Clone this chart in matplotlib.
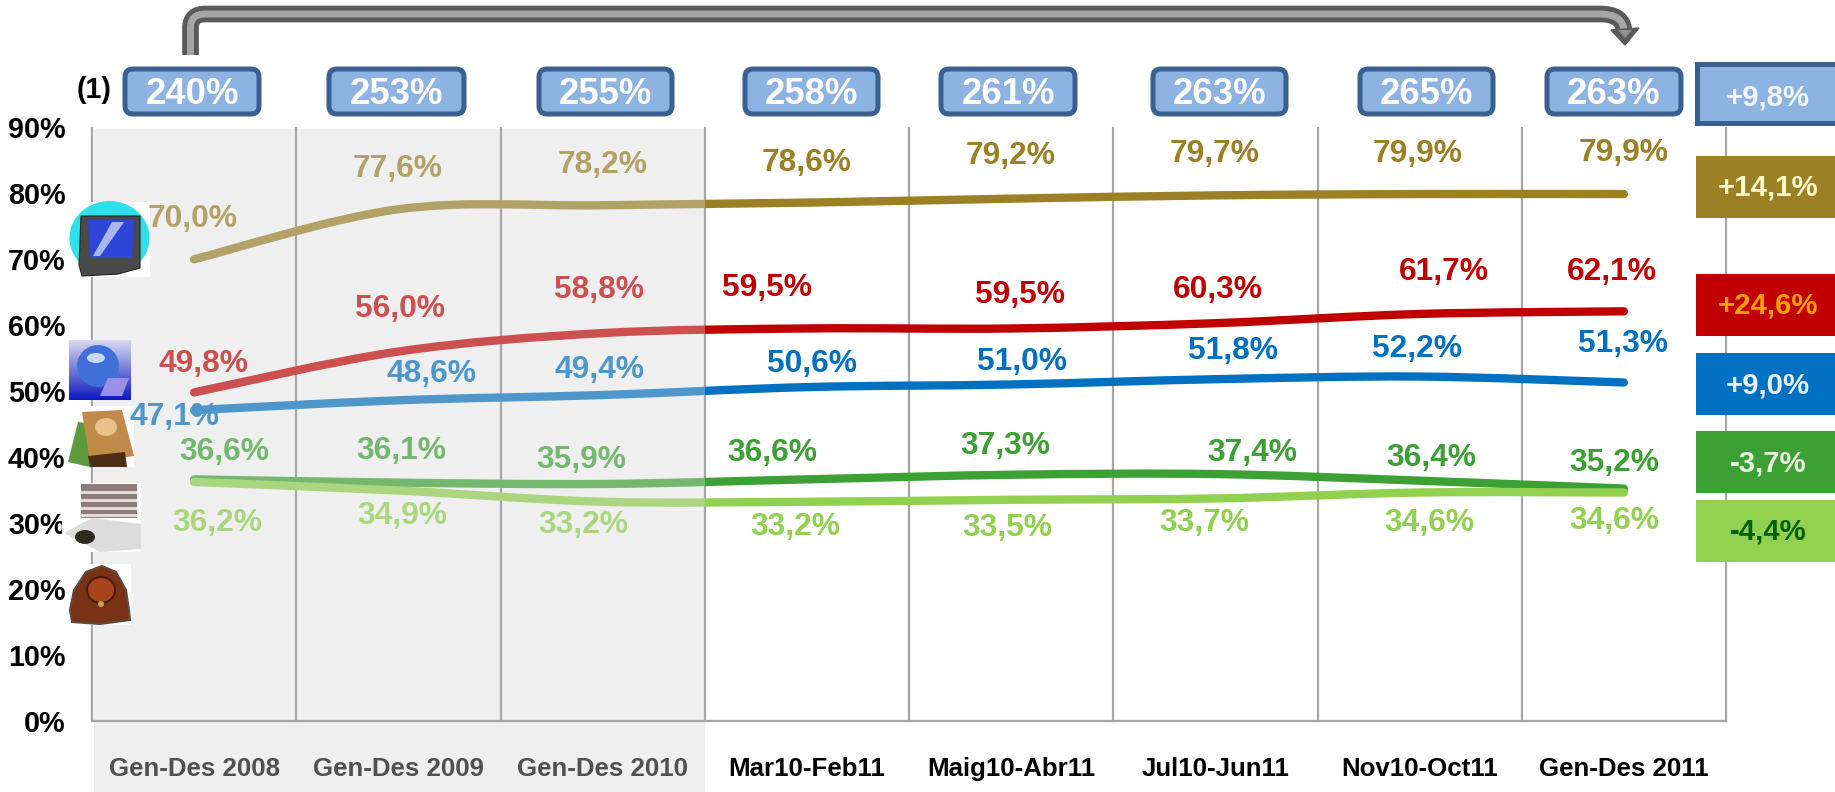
import numpy as np
import matplotlib
matplotlib.use("Agg")
import matplotlib.pyplot as plt
from matplotlib.path import Path
from matplotlib.patches import PathPatch, Rectangle, FancyBboxPatch, Circle, Polygon, Ellipse

FS = 1.06   # a little larger: the reference's text is taller and narrower than Liberation Sans
plt.rcParams['font.family'] = ['Liberation Sans', 'DejaVu Sans']
plt.rcParams['font.weight'] = 'bold'

# ---------- data ----------
periods = ['Gen-Des 2008', 'Gen-Des 2009', 'Gen-Des 2010', 'Mar10-Feb11', 'Maig10-Abr11',
           'Jul10-Jun11', 'Nov10-Oct11', 'Gen-Des 2011']
tv = [70.0, 77.6, 78.2, 78.6, 79.2, 79.7, 79.9, 79.9]
internet = [49.8, 56.0, 58.8, 59.5, 59.5, 60.3, 61.7, 62.1]
magazines = [47.1, 48.6, 49.4, 50.6, 51.0, 51.8, 52.2, 51.3]
newspapers = [36.6, 36.1, 35.9, 36.6, 37.3, 37.4, 36.4, 35.2]
radio = [36.2, 34.9, 33.2, 33.2, 33.5, 33.7, 34.6, 34.6]
totals = ['240%', '253%', '255%', '258%', '261%', '263%', '265%', '263%']
total_change = '+9,8%'
changes = ['+14,1%', '+24,6%', '+9,0%', '-3,7%', '-4,4%']
yticks = list(range(0, 100, 10))

# ---------- styles / layout (reference pixels) ----------
W, H = 1835, 792
S = 1835 / 1568
series = [
    (tv, '#9c8026', '#b3a268'),
    (internet, '#c00000', '#cc5050'),
    (magazines, '#0070c0', '#4f97cb'),
    (newspapers, '#3da035', '#74b870'),
    (radio, '#92d050', '#abd67f'),
]
label_xy = [
    [(165, 187), (340, 144), (515, 141), (689, 139), (864, 133), (1038, 132), (1211, 132), (1387, 131)],
    [(174, 311), (342, 264), (512, 248), (655, 246), (872, 252), (1041, 248), (1234, 232), (1377, 232)],
    [(149, 356), (369, 320), (512, 316), (694, 311), (873, 309), (1054, 300), (1211, 298), (1387, 294)],
    [(192, 386), (343, 385), (497, 393), (660, 387), (859, 381), (1070, 387), (1223, 391), (1379, 396)],
    [(186, 447), (344, 441), (498, 449), (680, 450), (861, 451), (1029, 447), (1221, 447), (1379, 445)],
]
box_x = [(122, 262), (326, 467), (536, 675), (742, 881), (938, 1078), (1150, 1289), (1357, 1496), (1544, 1684)]
change_boxes = [(156, 218, '#9c8026', '#fff8c8'), (274, 336, '#c00000', '#ffa000'),
                (353, 415, '#0070c0', '#e4f0fa'), (431, 493, '#3da035', '#e8f0e0'),
                (500, 562, '#92d050', '#006000')]

fig = plt.figure(figsize=(W / 100, H / 100), dpi=100, facecolor='white')
ax = fig.add_axes([92 / W, 1 - 720.5 / H, (1726 - 92) / W, (720.5 - 127.5) / H])
ax.set_xlim(0, 8)
ax.set_ylim(0, 90)
ax.patch.set_alpha(0)
for s in ('top', 'right'):
    ax.spines[s].set_visible(False)
for s in ('left', 'bottom'):
    ax.spines[s].set_color('#a6a6a6')
    ax.spines[s].set_linewidth(1.6)
for xv in range(1, 9):
    ax.axvline(xv, color='#a6a6a6', lw=1.6, zorder=1, clip_on=False)

xs = np.arange(len(periods)) + 0.5
ax.set_xticks(xs, periods, fontsize=18.6, fontweight='bold')
for i, t in enumerate(ax.get_xticklabels()):
    t.set_color('#505050' if i < 3 else 'black')
ax.set_yticks(yticks, [f'{v}%' for v in yticks], fontsize=19.5 * FS, fontweight='bold')
ax.tick_params(axis='both', length=0)
ax.tick_params(axis='x', pad=26)
ax.tick_params(axis='y', pad=19)


def smooth(y):
    """Catmull-Rom Bezier through the data values, as a spreadsheet's smoothed line."""
    y = np.asarray(y, float)
    verts, codes = [(xs[0], y[0])], [Path.MOVETO]
    n = len(y)
    for i in range(n - 1):
        p0, p1, p2, p3 = max(i - 1, 0), i, i + 1, min(i + 2, n - 1)
        c1 = (xs[p1] + (xs[p2] - xs[p0]) / 6, y[p1] + (y[p2] - y[p0]) / 6)
        c2 = (xs[p2] - (xs[p3] - xs[p1]) / 6, y[p2] - (y[p3] - y[p1]) / 6)
        verts += [c1, c2, (xs[p2], y[p2])]
        codes += [Path.CURVE4] * 3
    return Path(verts, codes)


for k, (vals, dark, light) in enumerate(series):
    path = smooth(vals)
    for col, rect in ((light, (-1, -10, 4, 110)), (dark, (3, -10, 6, 110))):
        p = PathPatch(path, fill=False, edgecolor=col, lw=6, capstyle='round', zorder=3 + k * 0.1)
        ax.add_patch(p)
        p.set_clip_path(Rectangle(rect[:2], rect[2], rect[3], transform=ax.transData))

# ---------- overlay in pixel coordinates ----------
ov = fig.add_axes([0, 0, 1, 1], zorder=-1)
ov.set_xlim(0, W)
ov.set_ylim(H, 0)
ov.axis('off')
ov.add_patch(Rectangle((94, 129), 705 - 94, H - 129, fc='#efefef', ec='none'))

top = fig.add_axes([0, 0, 1, 1], zorder=5)
top.set_xlim(0, W)
top.set_ylim(H, 0)
top.axis('off')

# value labels
for (vals, dark, light), pos in zip(series, label_xy):
    for i, (v, (x, y)) in enumerate(zip(vals, pos)):
        top.text(x * S, y * S, f'{v:.1f}%'.replace('.', ','), color=light if i < 3 else dark,
                 fontsize=21.6 * FS, fontweight='bold', ha='center', va='center', zorder=8)

# total boxes
for (x0, x1), t in zip(box_x, totals):
    top.add_patch(FancyBboxPatch((x0 + 3, 69), x1 - x0 - 6, 45, boxstyle='round,pad=0,rounding_size=8',
                                 fc='#8db3e2', ec='#3b6090', lw=3.6))
    top.text((x0 + x1) / 2, 94, t, color='white', fontsize=24.8 * FS, ha='center', va='center')
top.text(80 * S, 76 * S + 1, '(1)', color='black', fontsize=19.5 * FS, ha='center', va='center')

# change boxes
top.add_patch(Rectangle((1697, 64), 160, 59, fc='#8db3e2', ec='#3b6090', lw=3.6, clip_on=True))
top.text(1768, 97, total_change, color='#f2f6fc', fontsize=20 * FS, ha='center', va='center')
for (y0, y1, fc, tc), t in zip(change_boxes, changes):
    top.add_patch(Rectangle((1696, y0), 139, y1 - y0, fc=fc, ec='none'))
    top.text(1768, (y0 + y1) / 2 + 1, t, color=tc, fontsize=20 * FS, ha='center', va='center')

# bent arrow
arrow_codes = [Path.MOVETO, Path.LINETO, Path.CURVE3, Path.CURVE3, Path.LINETO, Path.CURVE3, Path.CURVE3]
arrow = Path([(190.5, 55), (190.5, 28), (190.5, 14), (205, 14), (1600, 14), (1624, 14), (1624, 32)], arrow_codes)
top.add_patch(PathPatch(arrow, fill=False, ec='#5a5a5a', lw=12, capstyle='butt', joinstyle='round'))
top.add_patch(PathPatch(arrow, fill=False, ec='#a6a6a6', lw=5, capstyle='butt', joinstyle='round'))
top.add_patch(Polygon([(1611, 30), (1639, 28), (1625, 45)], fc='#5a5a5a', ec='#5a5a5a', lw=1))
top.add_patch(Polygon([(1618, 30), (1632, 30), (1625, 38)], fc='#8f8f8f', ec='none'))

# media icons
# television
top.add_patch(Rectangle((69, 202), 81, 75, fc='white', ec='none', zorder=6))
top.add_patch(Ellipse((109.5, 238), 80, 74, fc='#2de0ea', ec='none', zorder=6))
top.add_patch(Polygon([(81, 216), (140, 216), (140, 268), (118, 274), (82, 276), (79, 265)], fc='#4a4a4a', ec='#222222', lw=.8, zorder=6))
top.add_patch(Polygon([(88, 220), (134, 220), (132, 258), (90, 258)], fc='#2f45d8', ec='none', zorder=6))
top.add_patch(Polygon([(112, 222), (124, 222), (100, 256), (93, 256)], fc='#aab6ee', ec='none', zorder=6))
# internet
ramp = np.linspace(0, 1, 60)[:, None, None]
grad = ramp * np.array([[0.05, 0.1, 0.75]]) + (1 - ramp) * np.array([[0.85, 0.85, 0.95]])
top.imshow(grad, extent=(69, 130, 400, 340), aspect='auto', zorder=6)
top.set_xlim(0, W)
top.set_ylim(H, 0)
top.add_patch(Circle((98, 366), 21, fc='#3f6fd8', ec='none', zorder=6))
top.add_patch(Ellipse((96, 358), 18, 10, fc='#c6d6f6', ec='none', zorder=6))
top.add_patch(Polygon([(100, 396), (122, 396), (129, 378), (108, 378)], fc='#9a90e8', ec='none', zorder=6))
# magazines
top.add_patch(Rectangle((68, 406), 66, 61, fc='white', ec='none', zorder=6))
top.add_patch(Polygon([(68, 462), (78, 422), (92, 424), (90, 467)], fc='#5d9a3c', ec='none', zorder=6))
top.add_patch(Polygon([(82, 412), (122, 410), (134, 456), (90, 462)], fc='#c08a4a', ec='none', zorder=6))
top.add_patch(Polygon([(88, 456), (125, 452), (127, 467), (90, 467)], fc='#4d2e16', ec='none', zorder=6))
top.add_patch(Ellipse((106, 427), 22, 18, fc='#e8c288', ec='none', zorder=6))
# newspapers
top.add_patch(Rectangle((62, 483), 79, 69, fc='white', ec='none', zorder=6))
top.add_patch(Rectangle((81, 484), 56, 34, fc='#8f7c7c', ec='none', zorder=6))
for yy in (491, 499, 507, 514):
    top.add_patch(Rectangle((81, yy), 56, 2.5, fc='#e0dada', ec='none', zorder=6))
top.add_patch(Polygon([(64, 533), (92, 518), (141, 524), (141, 549), (100, 552)], fc='#dcdcdc', ec='none', zorder=6))
top.add_patch(Ellipse((85, 537), 20, 14, fc='#2e2a22', ec='none', zorder=6))
# radio
top.add_patch(Rectangle((69, 564), 62, 61, fc='white', ec='none', zorder=6))
top.add_patch(Polygon([(72, 622), (70, 610), (74, 590), (86, 572), (102, 566), (116, 572), (126, 590), (129, 610), (130, 620), (100, 624)],
                      fc='#7a3216', ec='#5c4a3a', lw=1.5, zorder=6))
top.add_patch(Ellipse((101, 590), 28, 26, fc='#a8441c', ec='#4a1c0a', lw=1.5, zorder=6))
top.add_patch(Circle((101, 604), 3, fc='#c9a24a', ec='none', zorder=6))

fig.savefig('out.png', dpi=100)
